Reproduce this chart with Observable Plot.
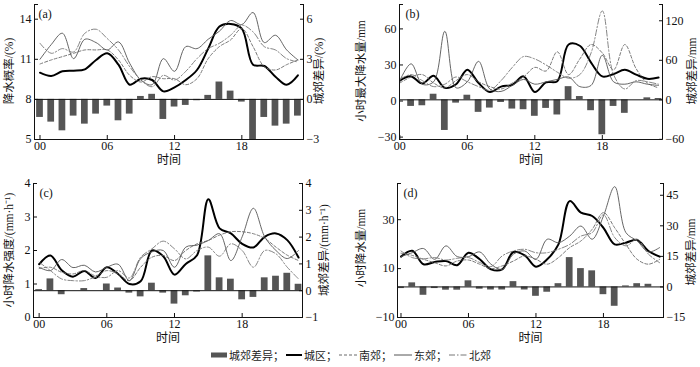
<!DOCTYPE html>
<html><head><meta charset="utf-8">
<script src="https://cdn.jsdelivr.net/npm/d3@7"></script>
<script src="https://cdn.jsdelivr.net/npm/@observablehq/plot@0.6"></script>
<style>
body{margin:0;background:#fff;}
#wrap{position:relative;width:700px;height:367px;overflow:hidden;background:#fff;font-family:'Liberation Serif','Noto Sans CJK SC',serif;color:#111;}
.panel{position:absolute;}
.vlab{position:absolute;white-space:nowrap;font-size:11.5px;line-height:1;color:#111;transform:translate(-50%,-50%) rotate(-90deg);}
#legend{position:absolute;left:0;top:347px;width:700px;display:flex;justify-content:center;align-items:center;font-size:11px;color:#222;font-family:'Liberation Serif','Noto Sans CJK SC',serif;}
#legend span{display:inline-flex;align-items:center;}
#legend svg{margin:0 2px;}
</style></head><body><div id="wrap"></div>
<script>
// ---------- data ----------
const hours = d3.range(24);
const xTicks = [0, 6, 12, 18];
const seriesNames = ["城区", "南郊", "东郊", "北郊"];
const diffName = "城郊差异";
const xLabel = "时间";

// (a) 降水概率
const a_diff  = [-1.35,-1.7,-2.35,-1.25,-1.85,-1.1,-0.5,-1.6,-1.1,0.22,0.38,-1.5,-0.57,-0.45,-0.1,0.3,1.3,0.62,-0.2,-3.0,-1.35,-2.0,-1.85,-1.25];
const a_city  = [10.0,9.75,10.1,10.15,10.25,10.95,11.45,10.6,9.1,9.55,9.45,8.6,8.9,9.45,10.2,11.8,13.45,13.65,13.3,10.6,10.5,9.7,9.1,9.8];
const a_south = [10.65,10.95,11.2,11.45,11.7,11.7,11.7,10.95,9.8,9.3,9.7,9.55,9.55,9.1,9.55,11.05,11.95,12.45,13.3,11.95,10.45,10.2,10.6,10.95];
const a_east  = [11.0,12.1,12.95,11.05,12.5,12.25,11.7,12.3,10.7,9.45,9.1,11.05,10.1,11.95,11.8,12.5,13.1,13.9,13.6,14.5,12.25,12.8,11.7,10.95];
const a_north = [12.2,11.45,11.8,11.55,12.95,13.25,12.55,11.7,10.45,9.45,8.95,9.8,9.45,10.1,11.05,11.8,12.2,12.8,13.55,13.05,11.95,11.7,11.05,10.8];
const a_leftTicks = [5, 8, 11, 14];
const a_rightTicks = [-3, 0, 3, 6];

// (b) 小时最大降水量
const b_diff  = [0,-10,-9,8.5,-46.5,-5,7,-19,-12.5,-4,-14,-15,-25,-13,-23,20,5,-16.5,-53,-10,-20.5,0,3,2];
const b_city  = [17,20.5,14.5,21,11,14,26,15,7.5,12,13.5,20.5,7.5,15.5,16.5,47,46,32,20.5,22.5,26,22,18.5,19.5];
const b_south = [15,20,22,15,11,17,22,16,12,10,15,20,28,25,41,22,35,47,40,26,47,27,15,11];
const b_east  = [17,31,14,16,58,11,16,33,10,8,13,18,14,16,18,20,12,13,38,16,14,16,14,13];
const b_north = [18,22,17,12,14,20,16,12,9,17,28,37,35,30,24,19,22,40,75,22,10,17,16,14];
const b_leftTicks = [-30, 0, 30, 60];
const b_rightTicks = [-60, 0, 60, 120];

// (c) 小时降水强度
const c_diff  = [0.04,0.44,-0.15,0,0.08,0,0.25,0.1,-0.09,-0.23,0.28,-0.09,-0.5,-0.19,-0.05,1.3,0.48,0.43,-0.34,-0.25,0.48,0.54,0.65,0.24];
const c_city  = [1.59,1.85,1.41,1.22,1.39,1.18,1.5,1.3,1.0,1.08,2.0,1.83,1.28,1.6,1.86,3.53,2.66,2.51,2.2,2.09,2.41,2.51,2.31,1.79];
const c_south = [1.46,1.5,1.35,1.3,1.4,1.25,1.4,1.3,1.1,1.5,1.8,1.85,1.7,2.0,2.2,2.3,2.46,2.56,2.56,2.5,2.36,2.1,1.86,1.7];
const c_east  = [1.5,1.4,1.73,1.49,1.56,1.36,1.5,1.59,1.1,1.76,1.96,2.0,1.5,2.1,2.16,2.3,2.5,1.7,2.41,3.26,2.41,2.0,1.76,2.0];
const c_north = [1.65,1.4,1.15,1.1,1.1,1.2,1.2,1.4,1.18,1.8,2.05,2.28,2.05,1.75,2.0,2.1,1.83,2.2,2.0,1.5,2.0,1.9,1.5,1.15];
const c_leftTicks = [0, 1, 2, 3, 4];
const c_rightTicks = [-1, 0, 1, 2, 3, 4];

// (d) 小时降水量
const d_diff  = [-0.8,2,-4.1,-0.8,-1.6,-1.6,3,-1.1,-1.5,-1.5,2.6,-1.5,-4.6,-2.6,1.6,14.4,9,7.9,-3.8,-9.5,0.5,1.6,1.3,0];
const d_city  = [14.9,17.3,11.8,12.7,13.1,11.4,16.5,13.8,9.7,9.7,16.8,15.4,10.8,13.8,19.9,37.6,32.9,31.5,26.7,19.9,20.6,21.7,17.2,14.9];
const d_south = [16.3,15.4,13.8,12.4,11.1,13.1,13.5,11.8,10,11.1,13.1,15.2,13.8,11.8,14.5,18.6,21.3,26.1,32.9,26.7,19.9,13.8,11.8,13.8];
const d_east  = [14.9,16.5,18.2,13.8,19.3,14.9,14.9,16.8,11.8,9.7,15.9,17.2,13.8,22,20.6,23.3,27.4,22,31.5,43.5,24.7,21.3,16.8,18.6];
const d_north = [17.2,14.5,14,14.5,13.5,14.2,14.5,12.5,10.8,15.2,17.2,17.9,16.5,16.5,17.9,19.9,23.3,24.7,32,22.7,19.3,22,15.9,12.4];
const d_leftTicks = [-10, 10, 30];
const d_rightTicks = [-15, 0, 15, 30, 45];

// ---------- drawing ----------
const FONT = "'Liberation Serif','Noto Sans CJK SC',serif";
const lineStyle = {
  "城区": {stroke: "#000", strokeWidth: 2},
  "南郊": {stroke: "#6a6a6a", strokeWidth: 0.9, strokeDasharray: "3,2"},
  "东郊": {stroke: "#555", strokeWidth: 0.9},
  "北郊": {stroke: "#777", strokeWidth: 0.9, strokeDasharray: "6,2,1.5,2"}
};
const fmt = d3.format("d");
const wrap = document.getElementById("wrap");

function vlabel(text, cx, cy) {
  const el = document.createElement("div");
  el.className = "vlab";
  el.textContent = text;
  el.style.left = cx + "px";
  el.style.top = cy + "px";
  wrap.appendChild(el);
}

function panel(cfg) {
  const toL = r => cfg.k * r + cfg.b;
  const fromL = L => (L - cfg.b) / cfg.k;
  const rows = hours.map((h, i) => ({h, diff: cfg.diff[i]}));
  const top = cfg.yDomain[1];
  const marks = [
    Plot.rectY(rows, {x1: d => d.h - 0.3, x2: d => d.h + 0.3, y1: toL(0), y2: d => toL(d.diff), fill: "#555", clip: true}),
    Plot.ruleY([toL(0)], {stroke: "#111", strokeWidth: 1}),
    ...seriesNames.map((name, s) => Plot.line(hours.map((h, i) => ({h, v: cfg.lines[s][i]})),
      {x: "h", y: "v", curve: "catmull-rom", clip: true, ...lineStyle[name]})),
    Plot.ruleX([cfg.xDomain[0], cfg.xDomain[1]], {stroke: "#111", strokeWidth: 1}),
    Plot.ruleY([cfg.yDomain[0]], {stroke: "#111", strokeWidth: 1}),
    Plot.axisY(cfg.leftTicks, {anchor: "left", label: null, tickSize: -4, tickPadding: 7, fontSize: 12, tickFormat: fmt}),
    Plot.axisY([top], {anchor: "left", label: null, tickSize: -4, tickFormat: () => ""}),
    Plot.axisY(cfg.rightTicks.map(toL), {anchor: "right", label: null, tickSize: -4, tickPadding: 7, fontSize: 12, tickFormat: d => fmt(Math.round(fromL(d)))}),
    Plot.axisY([top], {anchor: "right", label: null, tickSize: -4, tickFormat: () => ""}),
    Plot.axisX(xTicks, {anchor: "bottom", label: null, tickSize: -4, tickPadding: 6, fontSize: 12, tickFormat: d => String(d).padStart(2, "0")}),
    Plot.text([cfg.tag], {frameAnchor: "top-left", dx: cfg.tagDx, dy: 5, textAnchor: "start", fontSize: 12, text: d => d}),
    Plot.text([xLabel], {frameAnchor: "bottom", dy: 24, fontSize: 12, text: d => d})
  ];
  const svg = Plot.plot({
    width: 350, height: cfg.height,
    marginLeft: cfg.m[0], marginRight: cfg.m[1], marginTop: cfg.m[2], marginBottom: cfg.m[3],
    x: {domain: cfg.xDomain, label: null},
    y: {domain: cfg.yDomain, label: null},
    style: {fontFamily: FONT, fontSize: "12px", color: "#111", background: "transparent", overflow: "visible"},
    marks
  });
  const div = document.createElement("div");
  div.className = "panel";
  div.style.left = cfg.left + "px";
  div.style.top = cfg.topPx + "px";
  div.appendChild(svg);
  wrap.appendChild(div);
  vlabel(cfg.leftLabel, cfg.leftPos[0], cfg.leftPos[1]);
  vlabel(cfg.rightLabel, cfg.rightPos[0], cfg.rightPos[1]);
}

panel({tag: "(a)", tagDx: 4, left: 0, topPx: 0, height: 170, m: [34, 47, 4, 31],
  xDomain: [-0.49, 23.5], yDomain: [5, 15.1], k: 1, b: 8,
  diff: a_diff, lines: [a_city, a_south, a_east, a_north],
  leftTicks: a_leftTicks, rightTicks: a_rightTicks,
  leftLabel: "降水概率/(%)", rightLabel: "城郊差异/(%)", leftPos: [10, 71], rightPos: [320, 71]});

panel({tag: "(b)", tagDx: 6, left: 350, topPx: 0, height: 170, m: [49, 38, 4, 31],
  xDomain: [-0.03, 23.35], yDomain: [-32, 80.3], k: 0.548, b: 1.0,
  diff: b_diff, lines: [b_city, b_south, b_east, b_north],
  leftTicks: b_leftTicks, rightTicks: b_rightTicks,
  leftLabel: "小时最大降水量/mm", rightLabel: "城郊差异/mm", leftPos: [362, 71], rightPos: [693, 71]});

panel({tag: "(c)", tagDx: 6, left: 0, topPx: 170, height: 178, m: [33, 48, 13, 31],
  xDomain: [-0.5, 23.35], yDomain: [0, 4], k: 0.8, b: 0.8,
  diff: c_diff, lines: [c_city, c_south, c_east, c_north],
  leftTicks: c_leftTicks, rightTicks: c_rightTicks,
  leftLabel: "小时降水强度/(mm·h⁻¹)", rightLabel: "城郊差异/(mm·h⁻¹)", leftPos: [10, 250], rightPos: [325, 250]});

panel({tag: "(d)", tagDx: 6, left: 350, topPx: 170, height: 178, m: [47, 37, 13, 31],
  xDomain: [-0.31, 23.34], yDomain: [-10, 44.8], k: 0.833, b: 2.5,
  diff: d_diff, lines: [d_city, d_south, d_east, d_north],
  leftTicks: d_leftTicks, rightTicks: d_rightTicks,
  leftLabel: "小时降水量/mm", rightLabel: "城郊差异/mm", leftPos: [362, 248], rightPos: [692, 252]});

// ---------- legend ----------
const legend = document.createElement("div");
legend.id = "legend";
const sw = {
  bar: '<svg width="16" height="8"><rect x="0" y="1.5" width="16" height="5" fill="#555"/></svg>',
  "城区": '<svg width="16" height="8"><line x1="0" y1="4" x2="16" y2="4" stroke="#000" stroke-width="2"/></svg>',
  "南郊": '<svg width="18" height="8"><line x1="0" y1="4" x2="18" y2="4" stroke="#6a6a6a" stroke-width="1" stroke-dasharray="3,2"/></svg>',
  "东郊": '<svg width="18" height="8"><line x1="0" y1="4" x2="18" y2="4" stroke="#555" stroke-width="1"/></svg>',
  "北郊": '<svg width="18" height="8"><line x1="0" y1="4" x2="18" y2="4" stroke="#777" stroke-width="1" stroke-dasharray="6,2,1.5,2"/></svg>'
};
let html = `<span>${sw.bar}${diffName}；</span>`;
seriesNames.forEach((n, i) => {
  html += `<span>${sw[n]}${n}${i < seriesNames.length - 1 ? "；" : ""}</span>`;
});
legend.innerHTML = html;
wrap.appendChild(legend);
</script>
</body></html>
